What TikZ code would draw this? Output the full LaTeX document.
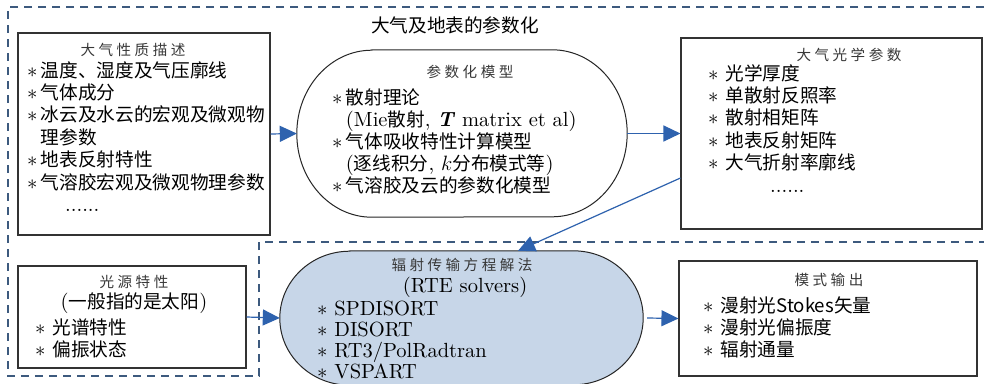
\documentclass[tikz,border=0pt]{standalone}
\usepackage{fontspec}
\setmainfont{lmroman10}[Extension=.otf, UprightFont=*-regular, BoldFont=*-bold, ItalicFont=*-italic, BoldItalicFont=*-bolditalic]
\usetikzlibrary{arrows.meta}
\newfontfamily\cjk{Noto Sans CJK SC}[Scale=0.91]
\newfontfamily\cjkh{Noto Sans CJK SC}[Scale=0.91,LetterSpace=24]
\newcommand\zh[1]{{\cjk #1}}
\newcommand\hd[1]{{\fontsize{16}{18}\selectfont\cjkh\color{black!78}#1}}
\newcommand\bul{$*$\,}
\newcommand\bulsp{$*$\ }
\definecolor{arrowblue}{HTML}{2E62AE}
\definecolor{dashblue}{HTML}{3D5A7E}
\definecolor{solverfill}{HTML}{C7D6E8}
\definecolor{boxline}{HTML}{333333}
\tikzset{
  box/.style={draw=boxline, line width=1.1pt, fill=white, inner sep=0pt},
  ghost/.style={inner sep=0pt},
  outline/.style={draw=black!85, line width=1pt},
  arr/.style={draw=arrowblue, line width=1.2pt, -{Triangle[length=17pt,width=16pt]}},
  dashframe/.style={draw=dashblue, line width=1.1pt, dash pattern=on 8pt off 6pt},
  blk/.style={anchor=base west, inner sep=0pt, font=\fontsize{20.5}{22.4}\selectfont},
  hdtext/.style={inner sep=0pt, font=\fontsize{20.5}{22.4}\selectfont},
}
\begin{document}
\begin{tikzpicture}[x=1pt,y=-1pt]
\useasboundingbox[fill=white] (0,0) rectangle (985,383);

% dashed region
\path[dashframe] (984,7) -- (8,7) -- (8,376) -- (259,376) -- (259,242) -- (984,242);

% title
\node[hdtext] (title) at (455,25) {\zh{大气及地表的参数化}};

% box 1
\node[box, minimum width=252pt, minimum height=202pt] (b1) at (144,134) {};
\node[hdtext] (h1) at (133,50) {\hd{大气性质描述}};
\node[blk] (t1) at (27,77) {\parbox[t]{245pt}{%
\bul\zh{温度、湿度及气压廓线}\\
\bul\zh{气体成分}\\
\bul\zh{冰云及水云的宏观及微观物}\\
\phantom{\bul}\zh{理参数}\\
\bul\zh{地表反射特性}\\
\bul\zh{气溶胶宏观及微观物理参数}\\
\hspace*{38pt}......}};

% parameterisation model (elliptical-ended)
\node[ghost, minimum width=330pt, minimum height=167pt] (model) at (462,133.5) {};
\path[outline, fill=white] ([xshift=75pt]model.north west) -- ([xshift=-75pt]model.north east)
  arc[start angle=90, end angle=-90, x radius=75pt, y radius=83.5pt]
  -- ([xshift=75pt]model.south west)
  arc[start angle=270, end angle=90, x radius=75pt, y radius=83.5pt] -- cycle;
\node[hdtext] (h2) at (470,72) {\hd{参数化模型}};
\node[blk, font=\fontsize{20.5}{22}\selectfont] (t2) at (332,104) {\parbox[t]{290pt}{%
\bul\zh{散射理论}\\
\phantom{\bul}(Mie\zh{散射}, \textbf{\textit{T}} matrix et al)\\
\bul\zh{气体吸收特性计算模型}\\
\phantom{\bul}(\zh{逐线积分}, $k$\zh{分布模式等})\\
\bul\zh{气溶胶及云的参数化模型}}};

% box 3
\node[box, minimum width=301pt, minimum height=191pt] (b3) at (831.5,133.5) {};
\node[hdtext] (h3) at (849,55) {\hd{大气光学参数}};
\node[blk] (t3) at (708,80) {\parbox[t]{260pt}{%
\bulsp\zh{光学厚度}\\
\bulsp\zh{单散射反照率}\\
\bulsp\zh{散射相矩阵}\\
\bulsp\zh{地表反射矩阵}\\
\bulsp\zh{大气折射率廓线}\\
\hspace*{62pt}......}};

% box 4
\node[box, minimum width=228pt, minimum height=102pt] (b4) at (132,317) {};
\node[hdtext] (h4) at (134,282) {\hd{光源特性}};
\node[hdtext] (h4b) at (134,303) {(\zh{一般指的是太阳})};
\node[blk] (t4) at (35,334) {\parbox[t]{200pt}{%
\bulsp\zh{光谱特性}\\
\bulsp\zh{偏振状态}}};

% solver
\node[ghost, minimum width=363pt, minimum height=134pt] (solver) at (461.5,318) {};
\path[outline, fill=solverfill] ([xshift=70pt]solver.north west) -- ([xshift=-70pt]solver.north east)
  arc[start angle=90, end angle=-90, x radius=70pt, y radius=67pt]
  -- ([xshift=70pt]solver.south west)
  arc[start angle=270, end angle=90, x radius=70pt, y radius=67pt] -- cycle;
\node[hdtext] (h5) at (462,265) {\hd{辐射传输方程解法}};
\node[hdtext, anchor=base] (h5b) at (465,292) {(RTE solvers)};
\node[blk, font=\fontsize{20.5}{21}\selectfont] (t5) at (317,315) {\parbox[t]{300pt}{%
\bulsp SPDISORT\\
\bulsp DISORT\\
\bulsp RT3/PolRadtran\\
\bulsp VSPART}};

% box 5
\node[box, minimum width=298pt, minimum height=115pt] (b6) at (828,318.5) {};
\node[hdtext] (h6) at (829,280) {\hd{模式输出}};
\node[blk] (t6) at (703,312) {\parbox[t]{260pt}{%
\bulsp\zh{漫射光Stokes矢量}\\
\bulsp\zh{漫射光偏振度}\\
\bulsp\zh{辐射通量}}};

% connectors
\draw[arr] (b1.east) -- (model.west);
\draw[arr] (model.east) -- (b3.west);
\draw[arr] ([yshift=-44.5pt]b3.west) -- ([xshift=56.5pt]solver.north);
\draw[arr] (b4.east) -- (solver.west);
\draw[arr] ([xshift=4pt]solver.east) -- (b6.west);
\end{tikzpicture}
\end{document}
